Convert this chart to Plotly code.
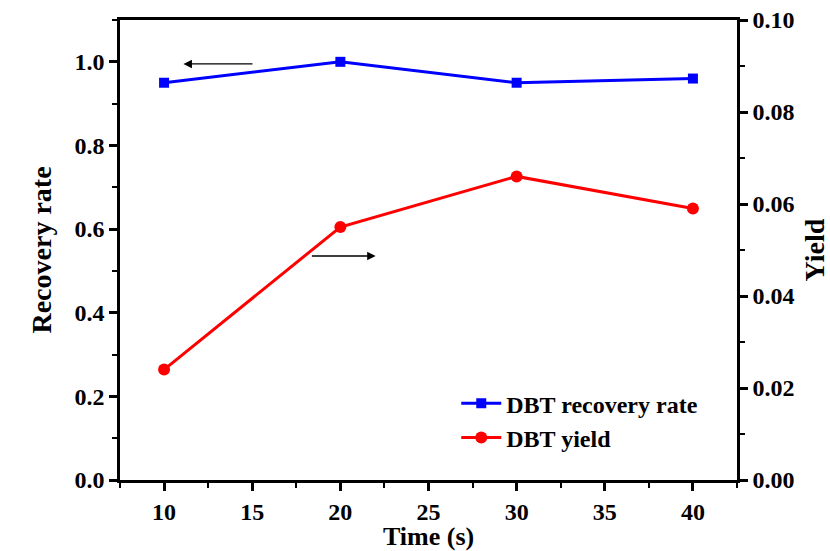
import plotly.graph_objects as go

# Reaction time (s)
time_s = [10, 20, 30, 40]
# DBT recovery rate (left axis)
recovery_rate = [0.95, 1.00, 0.95, 0.96]
# DBT yield (right axis)
dbt_yield = [0.024, 0.055, 0.066, 0.059]

x_ticks = [10, 15, 20, 25, 30, 35, 40]
left_ticks = [0.0, 0.2, 0.4, 0.6, 0.8, 1.0]
right_ticks = [0.00, 0.02, 0.04, 0.06, 0.08, 0.10]

FONT = "Liberation Serif"
BLUE = "#0000ff"
RED = "#ff0000"

fig = go.Figure()
fig.add_trace(go.Scatter(
    x=time_s, y=recovery_rate, name="DBT recovery rate",
    mode="lines+markers",
    line=dict(color=BLUE, width=3),
    marker=dict(symbol="square", size=10, color=BLUE),
    yaxis="y",
))
fig.add_trace(go.Scatter(
    x=time_s, y=dbt_yield, name="DBT yield",
    mode="lines+markers",
    line=dict(color=RED, width=3),
    marker=dict(symbol="circle", size=12, color=RED),
    yaxis="y2",
))

axis_common = dict(
    showgrid=False, zeroline=False, automargin=False,
    showline=True, linecolor="black", linewidth=2.5,
    ticks="outside", ticklen=8, tickwidth=2.5, tickcolor="black",
    tickfont=dict(family=FONT, size=24, color="black", weight="bold"),
)
minor = dict(ticks="outside", ticklen=5, tickwidth=2, tickcolor="black", showgrid=False)
title_font = dict(family=FONT, size=28, color="black", weight="bold")

fig.update_layout(
    width=830, height=551,
    margin=dict(l=120, r=93, t=20, b=71),
    paper_bgcolor="white", plot_bgcolor="white",
    showlegend=True,
    legend=dict(
        x=0.545, y=0.215, xanchor="left", yanchor="top",
        bgcolor="rgba(0,0,0,0)",
        font=dict(family=FONT, size=24, color="black", weight="bold"),
        tracegroupgap=0, itemwidth=40,
    ),
    xaxis=dict(
        **axis_common,
        range=[7.5, 42.5], tickvals=x_ticks, mirror=True,
        minor=dict(dtick=2.5, tick0=7.5, **minor),
    ),
    yaxis=dict(
        **axis_common,
        range=[0, 1.1], tickvals=left_ticks, tickformat=".1f",
        minor=dict(dtick=0.1, **minor),
        title=dict(text="Recovery rate", font=title_font),
    ),
    yaxis2=dict(
        **axis_common,
        overlaying="y", side="right",
        range=[0, 0.1], tickvals=right_ticks, tickformat=".2f",
        minor=dict(dtick=0.01, **minor),
        title=dict(text="Yield", font=title_font),
    ),
)

# x-axis title, placed just below the tick labels
fig.add_annotation(text="Time (s)", xref="paper", yref="paper",
                   x=0.5, y=-0.122, xanchor="center", yanchor="middle",
                   showarrow=False, font=dict(family=FONT, size=26, color="black", weight="bold"))

# Arrows indicating which axis each curve belongs to
fig.add_annotation(x=11.1, y=0.995, ax=15.1, ay=0.995, xref="x", yref="y",
                   axref="x", ayref="y", text="", showarrow=True,
                   arrowhead=2, arrowsize=1.3, arrowwidth=1.3, arrowcolor="black")
fig.add_annotation(x=22.0, y=0.0487, ax=18.3, ay=0.0487, xref="x", yref="y2",
                   axref="x", ayref="y2", text="", showarrow=True,
                   arrowhead=2, arrowsize=1.3, arrowwidth=1.3, arrowcolor="black")

fig.write_html("out.html")
